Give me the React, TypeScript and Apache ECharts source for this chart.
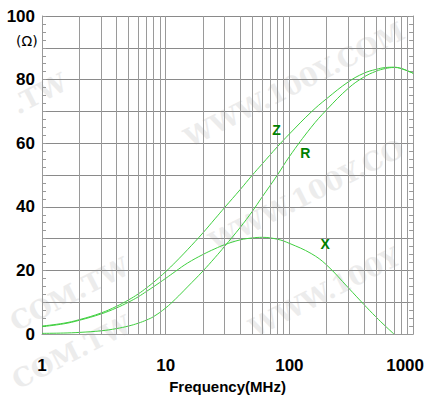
import React, { useEffect, useRef } from "react";
import * as echarts from "echarts";

const freqs = [1, 1.5, 2, 3, 4, 5, 6, 7, 8, 10, 12, 15, 20, 25, 30, 40, 50, 60, 80, 100, 150, 200, 300, 400, 500, 600, 700, 800, 1000];
const zValues = [2.5, 3.4, 4.5, 6.6, 8.7, 10.7, 12.6, 14.5, 16.3, 19.6, 22.6, 26.5, 31.8, 36.2, 39.8, 45.4, 49.9, 53.4, 58.9, 62.9, 69.8, 74, 79.3, 82, 83.2, 83.8, 83.9, 83.5, 82];
const rValues = [0.2, 0.3, 0.5, 1, 1.7, 2.5, 3.4, 4.4, 5.5, 8.2, 11, 14.8, 19.8, 24, 27.6, 33.5, 38.5, 43, 50, 55.8, 65, 70.5, 77.3, 80.8, 82.6, 83.5, 83.8, 83.5, 82];
const xValues = [2.3, 3.2, 4.3, 6.3, 8.2, 10, 11.7, 13.4, 14.9, 17.5, 19.7, 22.3, 25, 26.8, 28.1, 29.6, 30.2, 30.4, 29.8, 28.5, 25.3, 21.7, 14.5, 9.3, 5.4, 2.4, 0, null, null];

const minorFreqs = [2, 3, 4, 5, 6, 7, 8, 9, 20, 30, 40, 50, 60, 70, 80, 90, 200, 300, 400, 500, 600, 700, 800, 900];
const yLabelValues = [0, 20, 40, 60, 80, 100];
const curveLabels = [
  { name: "Z", coord: [78.6, 64] },
  { name: "R", coord: [134.6, 56.8] },
  { name: "X", coord: [195, 28.3] },
];
const watermarkTexts = [
  { text: "WWW.100Y.COM", x: 180, y: 128 },
  { text: "WWW.100Y.CO", x: 205, y: 232 },
  { text: "WWW.100Y", x: 245, y: 318 },
  { text: "COM.TW", x: 6, y: 312 },
  { text: "COM.TW", x: 8, y: 370 },
  { text: ".TW", x: 8, y: 95 },
];

const LINE_COLOR = "#3fcf3f";
const LABEL_FONT = "'Liberation Sans', Arial, sans-serif";

export default function App() {
  const ref = useRef<HTMLDivElement>(null);
  useEffect(() => {
    if (!ref.current) return;
    const chart = echarts.init(ref.current, null, { renderer: "svg" });
    const mk = (vals: (number | null)[]) => freqs.map((f, i) => [f, vals[i]]);
    const yAxisBase = {
      type: "value",
      min: 0,
      max: 100,
      interval: 10,
      axisLine: { show: true, lineStyle: { color: "#999", width: 1 } },
      axisTick: { show: true, inside: true, length: 4, lineStyle: { color: "#999" } },
      minorTick: { show: true, splitNumber: 4, length: 4, lineStyle: { color: "#999" } },
    };
    chart.setOption({
      animation: false,
      backgroundColor: "#ffffff",
      grid: { left: 42, right: 12, top: 16, bottom: 61, containLabel: false },
      graphic: watermarkTexts.map((p) => ({
        type: "text",
        x: p.x,
        y: p.y,
        rotation: 0.47,
        z: -10,
        silent: true,
        style: {
          text: p.text,
          fill: "#ececec",
          font: "bold 26px 'DejaVu Serif', serif",
        },
      })),
      xAxis: {
        type: "log",
        logBase: 10,
        min: 1,
        max: 1000,
        name: "Frequency(MHz)",
        nameLocation: "middle",
        nameGap: 45,
        nameTextStyle: { color: "#000", fontWeight: "bold", fontSize: 15, fontFamily: LABEL_FONT },
        axisLine: { show: true, lineStyle: { color: "#999", width: 1 } },
        axisTick: { show: false },
        splitLine: { show: true, lineStyle: { color: "#999", width: 1 } },
        axisLabel: {
          margin: 23,
          color: "#000",
          fontWeight: "bold",
          fontSize: 17,
          fontFamily: LABEL_FONT,
          formatter: (v: number) => {
            const r = Math.round(v);
            return r === 1000 ? "{m|1000}" : String(r);
          },
          rich: {
            m: { padding: [0, 16, 0, 0], color: "#000", fontWeight: "bold", fontSize: 17, fontFamily: LABEL_FONT },
          },
        },
      },
      yAxis: [
        {
          ...yAxisBase,
          position: "left",
          splitLine: { show: true, lineStyle: { color: "#8a8a8a", width: 1 } },
          axisLabel: {
            margin: 7,
            color: "#000",
            fontWeight: "bold",
            fontSize: 17,
            fontFamily: LABEL_FONT,
            formatter: (v: number) => (yLabelValues.includes(Math.round(v)) ? String(Math.round(v)) : ""),
          },
        },
        {
          ...yAxisBase,
          position: "right",
          splitLine: { show: false },
          axisLabel: { show: false },
        },
      ],
      series: [
        {
          type: "line",
          data: [],
          z: 1,
          silent: true,
          markLine: {
            silent: true,
            symbol: "none",
            label: { show: false },
            lineStyle: { color: "#9a9a9a", width: 1, type: "solid" },
            data: minorFreqs.map((f) => ({ xAxis: f })),
          },
        },
        {
          name: "Z",
          type: "line",
          data: mk(zValues),
          smooth: 0.4,
          showSymbol: false,
          z: 3,
          lineStyle: { color: LINE_COLOR, width: 1 },
          markPoint: {
            symbol: "rect",
            symbolSize: 1,
            itemStyle: { color: "rgba(0,0,0,0)" },
            label: {
              show: true,
              position: "inside",
              formatter: (p: any) => p.name,
              color: "#008000",
              fontWeight: "bold",
              fontSize: 14,
              fontFamily: LABEL_FONT,
            },
            data: curveLabels.map((c) => ({ name: c.name, coord: c.coord })),
          },
        },
        {
          name: "R",
          type: "line",
          data: mk(rValues),
          smooth: 0.4,
          showSymbol: false,
          z: 3,
          lineStyle: { color: LINE_COLOR, width: 1 },
        },
        {
          name: "X",
          type: "line",
          data: mk(xValues),
          smooth: 0.4,
          showSymbol: false,
          connectNulls: false,
          z: 3,
          lineStyle: { color: LINE_COLOR, width: 1 },
        },
      ],
    });
    return () => chart.dispose();
  }, []);
  return (
    <div style={{ position: "fixed", left: 0, top: 0, width: 427, height: 399, background: "#fff" }}>
      <div ref={ref} style={{ width: 427, height: 399 }} />
      <div
        style={{
          position: "absolute",
          left: 16,
          top: 33,
          fontSize: 14,
          fontFamily: "'DejaVu Sans', sans-serif",
          color: "#000",
          pointerEvents: "none",
          whiteSpace: "pre",
        }}
      >
        (Ω)
      </div>
    </div>
  );
}
